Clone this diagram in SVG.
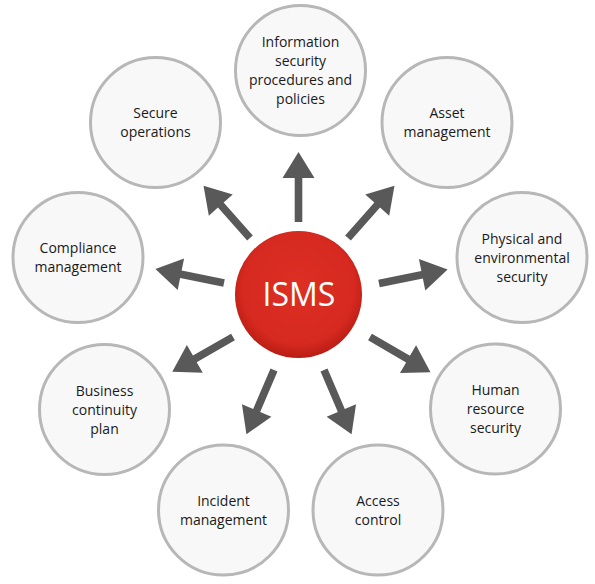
<svg xmlns="http://www.w3.org/2000/svg" xmlns:xlink="http://www.w3.org/1999/xlink" width="595" height="584" viewBox="0 0 595 584">
  <defs>
    <radialGradient id="red" cx="50%" cy="45%" r="55%">
      <stop offset="0" stop-color="#dd2f24"/>
      <stop offset="0.8" stop-color="#d6291f"/>
      <stop offset="1" stop-color="#b91d15"/>
    </radialGradient>
    <polygon id="arrow" points="0,-3.8 44,-3.8 44,-16 70,0 44,16 44,3.8 0,3.8"/>
  </defs>
  <style>
    .node { fill: #f8f8f8; stroke: #b7b7b7; stroke-width: 3; }
    .lbl { font-family: "Open Sans", "Noto Sans", "DejaVu Sans", sans-serif; font-size: 14px; fill: #1a1a1a; text-anchor: middle; }
    .arr { fill: #595959; }
    .core { font-family: "Open Sans", "Noto Sans", "DejaVu Sans", sans-serif; font-size: 32px; fill: #ffffff; text-anchor: middle; }
  </style>
  <rect width="595" height="584" fill="#ffffff"/>

  <g id="connectors" class="arr">
    <use xlink:href="#arrow" href="#arrow" transform="translate(298.5,222) rotate(-90)"/>
    <use xlink:href="#arrow" href="#arrow" transform="translate(250,238) rotate(-131.6)"/>
    <use xlink:href="#arrow" href="#arrow" transform="translate(348,238) rotate(-48.4)"/>
    <use xlink:href="#arrow" href="#arrow" transform="translate(224,283) rotate(-168.5)"/>
    <use xlink:href="#arrow" href="#arrow" transform="translate(379,283.5) rotate(-11.5)"/>
    <use xlink:href="#arrow" href="#arrow" transform="translate(233,337) rotate(150.2)"/>
    <use xlink:href="#arrow" href="#arrow" transform="translate(370,337) rotate(30.2)"/>
    <use xlink:href="#arrow" href="#arrow" transform="translate(274,370) rotate(113.2)"/>
    <use xlink:href="#arrow" href="#arrow" transform="translate(324,370) rotate(66.8)"/>
  </g>

  <g id="isms">
    <circle cx="298.5" cy="294.5" r="63.5" fill="url(#red)"/>
    <text class="core" x="299" y="306">ISMS</text>
  </g>

  <g id="n-info">
    <circle class="node" cx="300.5" cy="70.5" r="65"/>
    <text class="lbl" x="300.5" y="47">Information</text>
    <text class="lbl" x="300.5" y="66">security</text>
    <text class="lbl" x="300.5" y="85">procedures and</text>
    <text class="lbl" x="300.5" y="104">policies</text>
  </g>

  <g id="n-asset">
    <circle class="node" cx="447" cy="122.5" r="65"/>
    <text class="lbl" x="447" y="118">Asset</text>
    <text class="lbl" x="447" y="137">management</text>
  </g>

  <g id="n-physical">
    <circle class="node" cx="522" cy="257.5" r="65"/>
    <text class="lbl" x="522" y="243.5">Physical and</text>
    <text class="lbl" x="522" y="262.5">environmental</text>
    <text class="lbl" x="522" y="281.5">security</text>
  </g>

  <g id="n-human">
    <circle class="node" cx="495.5" cy="409" r="65"/>
    <text class="lbl" x="495.5" y="395">Human</text>
    <text class="lbl" x="495.5" y="414">resource</text>
    <text class="lbl" x="495.5" y="433">security</text>
  </g>

  <g id="n-access">
    <circle class="node" cx="378" cy="510" r="65"/>
    <text class="lbl" x="378" y="505.5">Access</text>
    <text class="lbl" x="378" y="524.5">control</text>
  </g>

  <g id="n-incident">
    <circle class="node" cx="223.5" cy="510" r="65"/>
    <text class="lbl" x="223.5" y="505.5">Incident</text>
    <text class="lbl" x="223.5" y="524.5">management</text>
  </g>

  <g id="n-business">
    <circle class="node" cx="104.5" cy="409.5" r="65"/>
    <text class="lbl" x="104.5" y="395.5">Business</text>
    <text class="lbl" x="104.5" y="414.5">continuity</text>
    <text class="lbl" x="104.5" y="433.5">plan</text>
  </g>

  <g id="n-compliance">
    <circle class="node" cx="78" cy="257.5" r="65"/>
    <text class="lbl" x="78" y="253">Compliance</text>
    <text class="lbl" x="78" y="272">management</text>
  </g>

  <g id="n-secure">
    <circle class="node" cx="155.5" cy="122.5" r="65"/>
    <text class="lbl" x="155.5" y="118">Secure</text>
    <text class="lbl" x="155.5" y="137">operations</text>
  </g>
</svg>
